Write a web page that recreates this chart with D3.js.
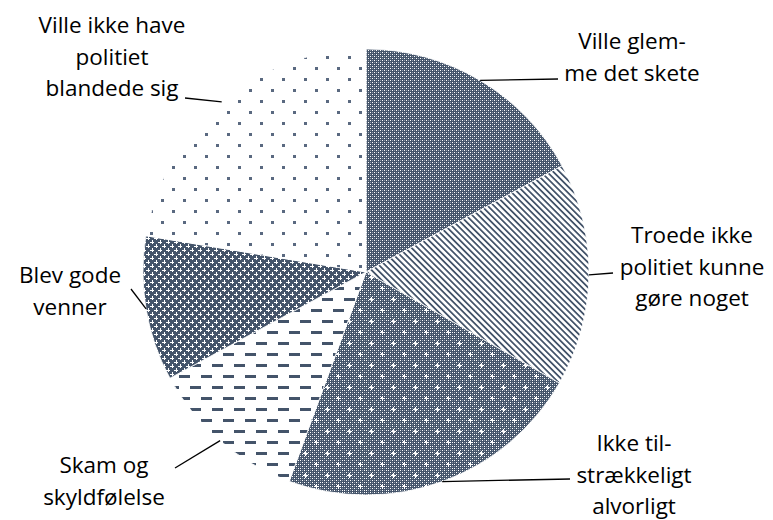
<!DOCTYPE html>
<html>
<head>
<meta charset="utf-8">
<script src="https://cdn.jsdelivr.net/npm/d3@7"></script>
<style>
  html, body { margin: 0; padding: 0; background: #ffffff; }
  svg { display: block; }
  text { font-family: "Open Sans", "Liberation Sans", sans-serif; fill: #000; font-variant-ligatures: none; }
  pattern rect { shape-rendering: crispEdges; }
</style>
</head>
<body>
<svg id="chart" width="773" height="520"></svg>
<script>
// ---- data ----
const categories = [
  "Ville glemme det skete",
  "Troede ikke politiet kunne gøre noget",
  "Ikke tilstrækkeligt alvorligt",
  "Skam og skyldfølelse",
  "Blev gode venner",
  "Ville ikke have politiet blandede sig"
];
const values = [17.1, 16.2, 22.3, 11.5, 10.5, 22.4];
const labelLines = [
  ["Ville glem-", "me det skete"],
  ["Troede ikke", "politiet kunne", "gøre noget"],
  ["Ikke til-", "strækkeligt", "alvorligt"],
  ["Skam og", "skyldfølelse"],
  ["Blev gode", "venner"],
  ["Ville ikke have", "politiet", "blandede sig"]
];

// ---- layout (not data) ----
const W = 773, H = 520;
const cx = 366, cy = 272, R = 223;
const dark = "#44546A";
const lineH = 31.6;
const fontSize = 22.5;
const labelLayout = [
  { x: 632, y: 49,  end: [558, 79] },
  { x: 692, y: 243, end: [613, 273] },
  { x: 634, y: 451, end: [570, 479] },
  { x: 104, y: 473, end: [175, 468] },
  { x: 70,  y: 283, end: [131, 289] },
  { x: 112, y: 33,  end: [185, 98] }
];

const svg = d3.select("#chart");
const defs = svg.append("defs");

function pat(id, w, h) {
  return defs.append("pattern").attr("id", id)
    .attr("patternUnits", "userSpaceOnUse")
    .attr("width", w).attr("height", h);
}
function greyBase(p, w, h) {
  p.append("rect").attr("width", w).attr("height", h).attr("fill", dark);
  for (let x = 0; x < w; x += 2)
    for (let y = 0; y < h; y += 2)
      p.append("rect").attr("x", x).attr("y", y).attr("width", 1).attr("height", 1)
        .attr("fill", ((x + y) % 4 === 0) ? "#ffffff" : "#8e98a6");
}
function plus(p, x, y, a, t, color) {
  p.append("rect").attr("x", x - a).attr("y", y - t / 2).attr("width", 2 * a).attr("height", t).attr("fill", color);
  p.append("rect").attr("x", x - t / 2).attr("y", y - a).attr("width", t).attr("height", 2 * a).attr("fill", color);
}

// p0: fine grey check
const p0 = pat("p0", 4, 4);
greyBase(p0, 4, 4);

// p1: diagonal stripes "\"
const p1 = pat("p1", 4.4, 4.4).attr("patternTransform", "rotate(-45)");
p1.append("rect").attr("width", 4.4).attr("height", 4.4).attr("fill", "#fff");
p1.append("rect").attr("width", 2.1).attr("height", 4.4).attr("fill", dark);

// p2: grey check with white sparkles
const p2 = pat("p2", 22, 22);
greyBase(p2, 22, 22);
[[5, 5], [16, 16]].forEach(([x, y]) => {
  plus(p2, x, y, 2.5, 1, "#fff");
  p2.append("rect").attr("x", x - 1).attr("y", y - 1).attr("width", 2).attr("height", 2).attr("fill", "#fff");
});

// p3: dashed horizontal
const p3 = pat("p3", 22, 22);
p3.append("rect").attr("width", 22).attr("height", 22).attr("fill", "#fff");
p3.append("rect").attr("x", 0).attr("y", 4).attr("width", 11).attr("height", 3).attr("fill", dark);
p3.append("rect").attr("x", 11).attr("y", 15).attr("width", 11).attr("height", 3).attr("fill", dark);

// p4: grey with white crosses
const p4 = pat("p4", 8, 8);
p4.append("rect").attr("width", 8).attr("height", 8).attr("fill", dark);
plus(p4, 2, 2, 2, 1, "#fff");
plus(p4, 6, 6, 2, 1, "#fff");

// p5: sparse dots
const p5 = pat("p5", 22, 22);
p5.append("rect").attr("width", 22).attr("height", 22).attr("fill", "#fff");
p5.append("rect").attr("x", 4).attr("y", 4).attr("width", 3).attr("height", 3).attr("fill", "#5a6980");
p5.append("rect").attr("x", 15).attr("y", 15).attr("width", 3).attr("height", 3).attr("fill", "#5a6980");

const fills = ["url(#p0)", "url(#p1)", "url(#p2)", "url(#p3)", "url(#p4)", "url(#p5)"];

// ---- pie ----
const pie = d3.pie().sort(null).value(d => d.v).startAngle(0).endAngle(2 * Math.PI);
const data = categories.map((c, i) => ({ c, v: values[i], i }));
const arcs = pie(data);
const arc = d3.arc().innerRadius(0).outerRadius(R);
const edgeArc = d3.arc().innerRadius(R).outerRadius(R);

const g = svg.append("g").attr("transform", `translate(${cx},${cy})`);
g.selectAll("path.slice").data(arcs).join("path")
  .attr("class", "slice")
  .attr("d", arc)
  .attr("fill", d => fills[d.data.i])
  .attr("stroke", "#fff")
  .attr("stroke-width", 0.8);

// ---- leader lines ----
arcs.forEach(d => {
  const [ex, ey] = edgeArc.centroid(d);
  const L = labelLayout[d.data.i];
  svg.append("line")
    .attr("x1", cx + ex).attr("y1", cy + ey)
    .attr("x2", L.end[0]).attr("y2", L.end[1])
    .attr("stroke", "#000").attr("stroke-width", 1.3);
});

// ---- labels ----
labelLines.forEach((lines, i) => {
  const L = labelLayout[i];
  const t = svg.append("text")
    .attr("text-anchor", "middle")
    .attr("font-size", fontSize);
  lines.forEach((s, k) => {
    t.append("tspan").attr("x", L.x).attr("y", L.y + k * lineH).text(s);
  });
});
</script>
</body>
</html>
